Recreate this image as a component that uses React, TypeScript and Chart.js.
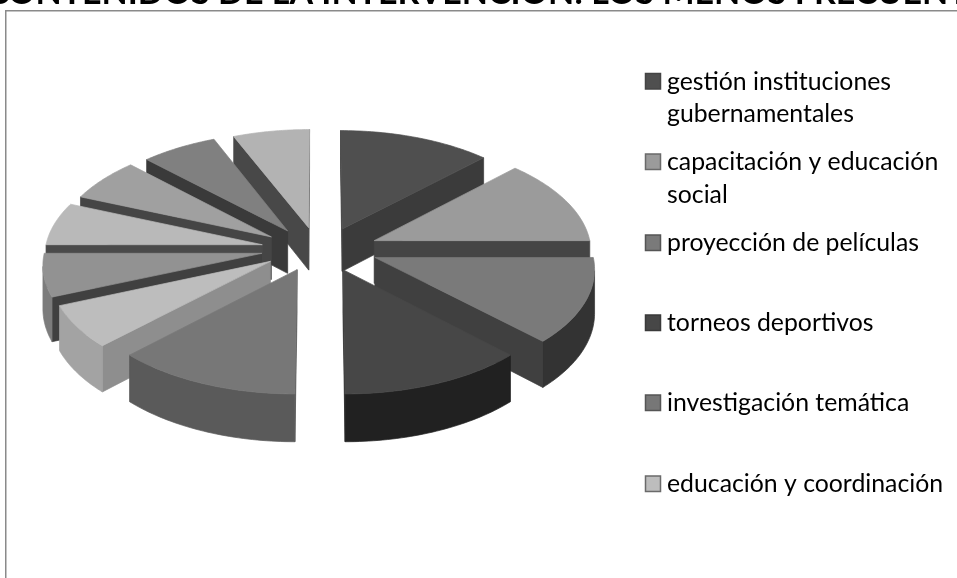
import React, { useEffect, useRef } from "react";
import { Chart, registerables } from "chart.js";

Chart.register(...registerables);

const titleText = "CONTENIDOS DE LA INTERVENCIÓN: LOS MENOS FRECUENTES";
const categories = [
  "gestión instituciones gubernamentales",
  "capacitación y educación social",
  "proyección de películas",
  "torneos deportivos",
  "investigación temática",
  "educación y coordinación",
  "",
  "",
  "",
  "",
  "",
];
const values = [2, 2, 2, 2, 2, 1, 1, 1, 1, 1, 1];
const legendLines = [
  ["gestión instituciones", "gubernamentales"],
  ["capacitación y educación", "social"],
  ["proyección de películas"],
  ["torneos deportivos"],
  ["investigación temática"],
  ["educación y coordinación"],
];

const topColors = ["#4f4f4f", "#9b9b9b", "#7a7a7a", "#474747", "#777777", "#bdbdbd", "#929292", "#b9b9b9", "#a0a0a0", "#808080", "#b3b3b3"];
const wallColors = ["#3d3d3d", "#5a5a5a", "#333333", "#212121", "#5a5a5a", "#a3a3a3", "#7c7c7c", "#5a5a5a", "#555555", "#505050", "#555555"];
const cutColors = ["#3b3b3b", "#454545", "#404040", "#2a2a2a", "#555555", "#8e8e8e", "#404040", "#4a4a4a", "#454545", "#3a3a3a", "#484848"];
const swatchBorders = ["#444444", "#6a6a6a", "#555555", "#3a3a3a", "#555555", "#6a6a6a"];

const CX = 320;
const CY = 249;
const TILT = 110 / 217;
const PERSP = 0.085;
const EXPLODE_X = 0.272;
const EXPLODE_Y = 0.2;
const DEPTH = 43 / 217;

type P = { x: number; y: number };

const pie3d = {
  id: "pie3d",
  beforeDatasetsDraw(chart: any) {
    const ctx: CanvasRenderingContext2D = chart.ctx;
    const arcs = chart.getDatasetMeta(0).data as any[];
    const R = arcs[0].outerRadius;
    const project = (u: number, v: number, z: number): P => {
      const f = 1 / (1 - PERSP * v);
      return { x: CX + R * u * f, y: CY + R * (TILT * v + z * DEPTH) * f };
    };
    const items = arcs.map((arc, i) => {
      const a0 = arc.startAngle + Math.PI / 2;
      const a1 = arc.endAngle + Math.PI / 2;
      const mid = (a0 + a1) / 2;
      return { i, a0, a1, mid, order: -Math.cos(mid) };
    });
    items.sort((p, q) => p.order - q.order);
    const face = (pts: P[], color: string) => {
      ctx.beginPath();
      pts.forEach((p, k) => (k ? ctx.lineTo(p.x, p.y) : ctx.moveTo(p.x, p.y)));
      ctx.closePath();
      ctx.fillStyle = color;
      ctx.strokeStyle = color;
      ctx.lineWidth = 0.7;
      ctx.fill();
      ctx.stroke();
    };
    for (const it of items) {
      const ox = EXPLODE_X * Math.sin(it.mid);
      const oy = -EXPLODE_Y * Math.cos(it.mid);
      const apex = { u: ox, v: oy };
      const rim: { u: number; v: number }[] = [];
      const steps = 40;
      for (let s = 0; s <= steps; s++) {
        const a = it.a0 + ((it.a1 - it.a0) * s) / steps;
        rim.push({ u: ox + Math.sin(a), v: oy - Math.cos(a) });
      }
      const drawCut = (p: { u: number; v: number }, q: { u: number; v: number }) => {
        const t0 = project(p.u, p.v, 0);
        const t1 = project(q.u, q.v, 0);
        if (t1.x < t0.x) face([t0, t1, project(q.u, q.v, 1), project(p.u, p.v, 1)], cutColors[it.i]);
      };
      drawCut(apex, rim[0]);
      drawCut(rim[steps], apex);
      const visible = rim.filter((p, k) => {
        const prev = rim[Math.max(0, k - 1)];
        const next = rim[Math.min(steps, k + 1)];
        return project(next.u, next.v, 0).x < project(prev.u, prev.v, 0).x;
      });
      if (visible.length > 1) {
        const upper = visible.map((p) => project(p.u, p.v, 0));
        const lower = visible.map((p) => project(p.u, p.v, 1)).reverse();
        face([...upper, ...lower], wallColors[it.i]);
      }
      face([apex, ...rim].map((p) => project(p.u, p.v, 0)), topColors[it.i]);
    }
    return false;
  },
};

const decor = {
  id: "decor",
  afterDraw(chart: any) {
    const ctx: CanvasRenderingContext2D = chart.ctx;
    ctx.save();
    ctx.fillStyle = "#8a8a8a";
    ctx.fillRect(5, 10, 952, 1.5);
    ctx.fillRect(5, 10, 1.5, 568);

    ctx.fillStyle = "#000000";
    ctx.textAlign = "left";
    ctx.textBaseline = "alphabetic";
    ctx.font = "bold 34px Lato";
    ctx.fillText(titleText, -14, 4);

    ctx.font = "24.8px Lato";
    const baselines = [[89.5, 122], [170, 203], [251], [331], [411], [492]];
    legendLines.forEach((lines, i) => {
      const last = baselines[i][0];
      ctx.fillStyle = topColors[i];
      ctx.strokeStyle = swatchBorders[i];
      ctx.lineWidth = 1.5;
      ctx.fillRect(645.5, last - 16, 15, 15.5);
      ctx.strokeRect(645.5, last - 16, 15, 15.5);
      ctx.fillStyle = "#000000";
      lines.forEach((line, k) => ctx.fillText(line, 667, baselines[i][k]));
    });
    ctx.restore();
  },
};

export default function App() {
  const ref = useRef<HTMLCanvasElement>(null);
  useEffect(() => {
    document.body.style.margin = "0";
    const chart = new Chart(ref.current as HTMLCanvasElement, {
      type: "pie",
      data: {
        labels: categories,
        datasets: [{ data: values, backgroundColor: topColors, borderWidth: 0 }],
      },
      options: {
        responsive: false,
        animation: false,
        layout: { padding: { left: 103, right: 420, top: 72, bottom: 72 } },
        plugins: { legend: { display: false }, title: { display: false }, tooltip: { enabled: false } },
      },
      plugins: [pie3d, decor],
    } as any);
    return () => chart.destroy();
  }, []);
  return (
    <div style={{ position: "absolute", left: 0, top: 0, width: 957, height: 578, overflow: "hidden", background: "#fff" }}>
      <canvas ref={ref} width={957} height={578} style={{ display: "block" }} />
    </div>
  );
}
